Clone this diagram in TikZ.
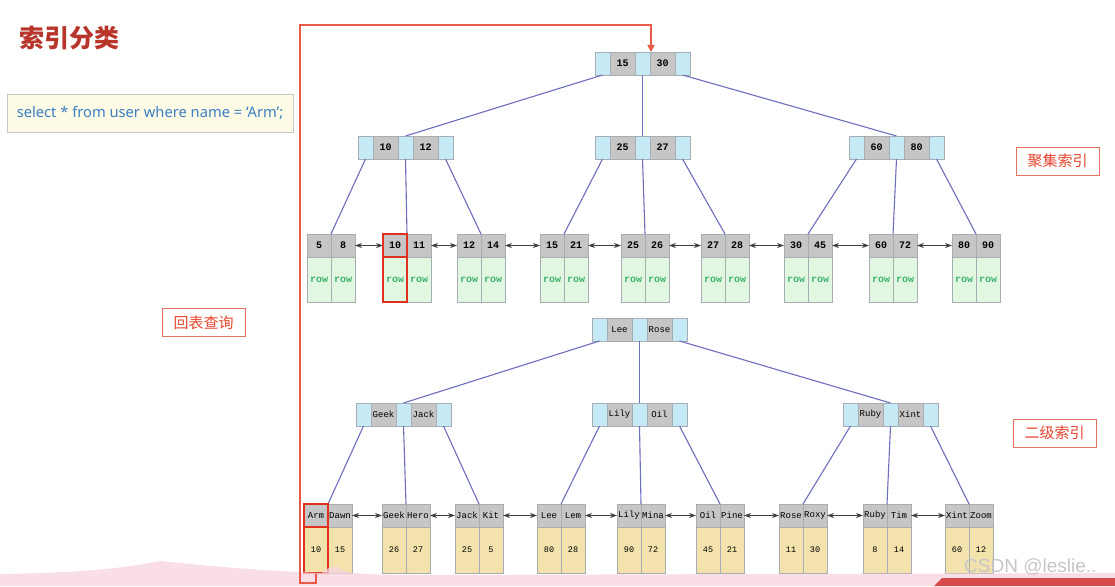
\documentclass[tikz,border=0pt]{standalone}
\usepackage{fontspec}
\setmainfont{Noto Sans}
\newfontfamily\cjk{Noto Sans CJK SC}
\newfontfamily\mono{Liberation Mono}
\newfontfamily\wmfont{Liberation Sans}
\usetikzlibrary{arrows.meta,fit}
\definecolor{cyanc}{HTML}{C6E9F6}
\definecolor{grayc}{HTML}{C6C6C6}
\definecolor{bordc}{HTML}{A6AEB4}
\definecolor{greenc}{HTML}{E2F7E2}
\definecolor{yelc}{HTML}{F3E2AB}
\definecolor{rowc}{HTML}{3DB26E}
\definecolor{linkc}{HTML}{6E6EBE}
\definecolor{arrc}{HTML}{404040}
\definecolor{titlec}{HTML}{B8352B}
\definecolor{labc}{HTML}{E8452E}
\definecolor{labb}{HTML}{E8705F}
\definecolor{hlc}{HTML}{E0301E}
\definecolor{pathc}{HTML}{EA5A48}
\definecolor{sqlfill}{HTML}{FDFAE6}
\definecolor{sqltext}{HTML}{3B7FC4}
\definecolor{pinkc}{HTML}{F7D3DE}
\definecolor{bannerc}{HTML}{D84A4A}
\newcommand\monoB{\mono\bfseries\fontsize{10}{10}\selectfont}
\newcommand\monoL{\mono\fontsize{9}{9}\selectfont}
\newcommand\rowf{\mono\bfseries\fontsize{10}{10}\selectfont}
\newcommand\valf{\mono\fontsize{8.5}{8.5}\selectfont}
\tikzset{
  cell/.style={draw=bordc, line width=0.8pt, inner sep=0pt, outer sep=0pt, minimum height=23pt},
  cy/.style={cell, fill=cyanc, minimum width=15pt},
  gy/.style={cell, fill=grayc, minimum width=25pt},
  lkU/.style={cell, fill=grayc, minimum width=24pt, font=\monoB},
  lkL/.style={cell, fill=grayc, minimum width=24pt, font=\monoL},
  grn/.style={cell, fill=greenc, minimum width=24pt, minimum height=45pt, text=rowc, font=\rowf},
  yel/.style={cell, fill=yelc, minimum width=24pt, minimum height=46pt, font=\valf},
  link/.style={draw=linkc, line width=1.1pt},
  dbl/.style={draw=arrc, line width=0.9pt, {Stealth[length=7pt,width=5pt]}-{Stealth[length=7pt,width=5pt]}},
  hl/.style={draw=hlc, line width=2pt, inner sep=0pt},
  lab/.style={draw=labb, line width=1pt, fill=white, text=labc, minimum width=83pt, minimum height=28pt, inner sep=0pt, font=\cjk\fontsize{15}{15}\selectfont},
  rpath/.style={draw=pathc, line width=1.6pt},
}
% internal node: name, x, y, key1, key2, font
\newcommand\inode[6]{%
  \node[cy,anchor=north west] (#1c1) at (#2,#3) {};
  \node[gy,anchor=north west,font=#6] (#1k1) at (#1c1.north east) {#4};
  \node[cy,anchor=north west] (#1c2) at (#1k1.north east) {};
  \node[gy,anchor=north west,font=#6] (#1k2) at (#1c2.north east) {#5};
  \node[cy,anchor=north west] (#1c3) at (#1k2.north east) {};
}
% leaf: name, x, y, k1, k2, v1, v2, lower style, header style
\newcommand\leafnode[9]{%
  \node[#9,anchor=north west] (#1a) at (#2,#3) {#4};
  \node[#9,anchor=north west] (#1b) at (#1a.north east) {#5};
  \node[#8,anchor=north west] (#1u) at (#1a.south west) {#6};
  \node[#8,anchor=north west] (#1v) at (#1b.south west) {#7};
}
\begin{document}
\begin{tikzpicture}[x=1pt,y=-1pt]
\useasboundingbox[fill=white] (0,0) rectangle (1115,586);

% title and query
\node[anchor=west, text=titlec, font=\cjk\bfseries\fontsize{25}{25}\selectfont] (title) at (16,38) {索引分类};
\node[draw=black!22, line width=1pt, fill=sqlfill, text=sqltext, minimum width=286pt, minimum height=38pt, inner sep=0pt, font=\fontsize{14.7}{14.7}\selectfont] (sql) at (150,113) {select * from user where name = ‘Arm’;};

% labels
\node[lab] (lab1) at (1057.5,161) {聚集索引};
\node[lab] (lab2) at (1054.5,433) {二级索引};
\node[lab] (lab3) at (203.5,322.5) {回表查询};

% clustered index tree
\inode{U0}{595}{52}{15}{30}{\monoB}
\inode{U1}{358}{136}{10}{12}{\monoB}
\inode{U2}{595}{136}{25}{27}{\monoB}
\inode{U3}{849}{136}{60}{80}{\monoB}

\leafnode{A1}{307}{234}{5}{8}{row}{row}{grn}{lkU}
\leafnode{A2}{383}{234}{10}{11}{row}{row}{grn}{lkU}
\leafnode{A3}{457}{234}{12}{14}{row}{row}{grn}{lkU}
\leafnode{A4}{540}{234}{15}{21}{row}{row}{grn}{lkU}
\leafnode{A5}{621}{234}{25}{26}{row}{row}{grn}{lkU}
\leafnode{A6}{701}{234}{27}{28}{row}{row}{grn}{lkU}
\leafnode{A7}{784}{234}{30}{45}{row}{row}{grn}{lkU}
\leafnode{A8}{869}{234}{60}{72}{row}{row}{grn}{lkU}
\leafnode{A9}{952}{234}{80}{90}{row}{row}{grn}{lkU}

\draw[link] (U0c1.south) -- (U1c2.north);
\draw[link] (U0c2.south) -- (U2c2.north);
\draw[link] (U0c3.south) -- (U3c2.north);
\draw[link] (U1c1.south) -- (A1a.north east);
\draw[link] (U1c2.south) -- (A2a.north east);
\draw[link] (U1c3.south) -- (A3a.north east);
\draw[link] (U2c1.south) -- (A4a.north east);
\draw[link] (U2c2.south) -- (A5a.north east);
\draw[link] (U2c3.south) -- (A6a.north east);
\draw[link] (U3c1.south) -- (A7a.north east);
\draw[link] (U3c2.south) -- (A8a.north east);
\draw[link] (U3c3.south) -- (A9a.north east);

\draw[dbl] (A1b.east) -- (A2a.west);
\draw[dbl] (A2b.east) -- (A3a.west);
\draw[dbl] (A3b.east) -- (A4a.west);
\draw[dbl] (A4b.east) -- (A5a.west);
\draw[dbl] (A5b.east) -- (A6a.west);
\draw[dbl] (A6b.east) -- (A7a.west);
\draw[dbl] (A7b.east) -- (A8a.west);
\draw[dbl] (A8b.east) -- (A9a.west);

% secondary index tree
\inode{L0}{592}{318}{Lee}{Rose}{\monoL}
\inode{L1}{356}{403}{Geek}{Jack}{\monoL}
\inode{L2}{592}{403}{Lily}{Oil}{\monoL}
\inode{L3}{843}{403}{Ruby}{Xint}{\monoL}

\leafnode{B1}{304}{504}{Arm}{Dawn}{10}{15}{yel}{lkL}
\leafnode{B2}{382}{504}{Geek}{Hero}{26}{27}{yel}{lkL}
\leafnode{B3}{455}{504}{Jack}{Kit}{25}{5}{yel}{lkL}
\leafnode{B4}{537}{504}{Lee}{Lem}{80}{28}{yel}{lkL}
\leafnode{B5}{617}{504}{Lily}{Mina}{90}{72}{yel}{lkL}
\leafnode{B6}{696}{504}{Oil}{Pine}{45}{21}{yel}{lkL}
\leafnode{B7}{779}{504}{Rose}{Roxy}{11}{30}{yel}{lkL}
\leafnode{B8}{863}{504}{Ruby}{Tim}{8}{14}{yel}{lkL}
\leafnode{B9}{945}{504}{Xint}{Zoom}{60}{12}{yel}{lkL}

\draw[link] (L0c1.south) -- (L1c2.north);
\draw[link] (L0c2.south) -- (L2c2.north);
\draw[link] (L0c3.south) -- (L3c2.north);
\draw[link] (L1c1.south) -- (B1a.north east);
\draw[link] (L1c2.south) -- (B2a.north east);
\draw[link] (L1c3.south) -- (B3a.north east);
\draw[link] (L2c1.south) -- (B4a.north east);
\draw[link] (L2c2.south) -- (B5a.north east);
\draw[link] (L2c3.south) -- (B6a.north east);
\draw[link] (L3c1.south) -- (B7a.north east);
\draw[link] (L3c2.south) -- (B8a.north east);
\draw[link] (L3c3.south) -- (B9a.north east);

\draw[dbl] (B1b.east) -- (B2a.west);
\draw[dbl] (B2b.east) -- (B3a.west);
\draw[dbl] (B3b.east) -- (B4a.west);
\draw[dbl] (B4b.east) -- (B5a.west);
\draw[dbl] (B5b.east) -- (B6a.west);
\draw[dbl] (B6b.east) -- (B7a.west);
\draw[dbl] (B7b.east) -- (B8a.west);
\draw[dbl] (B8b.east) -- (B9a.west);

% highlights
\node[hl, fit=(A2a)] (hA1) {};
\node[hl, fit=(A2u)] (hA2) {};
\node[hl, fit=(B1a)] (hB1) {};
\node[hl, fit=(B1u)] (hB2) {};

% bottom overlay (pink band, banner)
\fill[pinkc, opacity=0.75] (0,574) .. controls (60,573) and (110,571) .. (160,561)
  .. controls (200,565) and (260,571) .. (322,573)
  .. controls (328,567) and (333,566) .. (338,567)
  .. controls (342,572) and (350,575) .. (420,575)
  -- (1115,573) -- (1115,586) -- (0,586) -- cycle;
\fill[bannerc] (934,586) -- (942,578) -- (1115,578) -- (1115,586) -- cycle;

% lookup-back path
\coordinate (rp2) at (300,583);
\coordinate (rp3) at (300,25);
\coordinate (rp4) at (651,25);
\draw[rpath, -{Triangle[length=7pt,width=7pt]}] (hB2.south) |- (rp2) -- (rp3) -- (rp4) -- (U0c2.north west -| rp4);

% watermark
\node[anchor=west, text=gray!45, font=\wmfont\fontsize{19}{19}\selectfont, inner sep=0pt] (wm) at (964,567) {CSDN @leslie..};
\end{tikzpicture}
\end{document}
